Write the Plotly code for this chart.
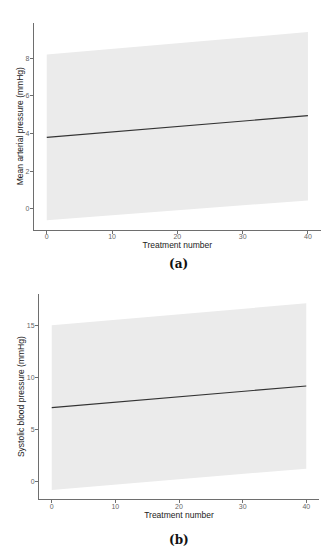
import plotly.graph_objects as go

# Data
treatment = [0, 40]
map_fit = [3.79, 4.95]
map_lower = [-0.62, 0.44]
map_upper = [8.21, 9.40]
sbp_fit = [7.12, 9.20]
sbp_lower = [-0.84, 1.22]
sbp_upper = [15.06, 17.18]

x_ticks = [0, 10, 20, 30, 40]
map_ticks = [0, 2, 4, 6, 8]
sbp_ticks = [0, 5, 10, 15]

# page body has an 8px margin; size the figure to fill the rest of the window
OFF = 8
W, H = 331 - OFF, 550 - OFF

def px(x):
    return (x - OFF) / W

def py(y):
    return 1 - (y - OFF) / H

ribbon_col = "#ebebeb"
line_col = "#333333"
axis_col = "#6e6e6e"
tick_font = dict(family="Liberation Sans, Arial, sans-serif", size=7, color="#666666")
title_font = dict(family="Liberation Sans, Arial, sans-serif", size=8.5, color="#222222")

fig = go.Figure()

def add_panel(fit, lower, upper, xa, ya):
    fig.add_trace(go.Scatter(
        x=treatment + treatment[::-1], y=upper + lower[::-1],
        fill="toself", fillcolor=ribbon_col, line=dict(width=0),
        mode="lines", hoverinfo="skip", showlegend=False, xaxis=xa, yaxis=ya))
    fig.add_trace(go.Scatter(
        x=treatment, y=fit, mode="lines", line=dict(color=line_col, width=1.2),
        showlegend=False, xaxis=xa, yaxis=ya))

add_panel(map_fit, map_lower, map_upper, "x", "y")
add_panel(sbp_fit, sbp_lower, sbp_upper, "x2", "y2")

def xax(domain, anchor):
    return dict(domain=domain, anchor=anchor, range=[-2, 42], tickvals=x_ticks,
                showline=True, linecolor=axis_col, linewidth=1, mirror=False,
                ticks="outside", ticklen=3, tickcolor=axis_col, tickwidth=1,
                ticklabelstandoff=-3,
                showgrid=False, zeroline=False, tickfont=tick_font, automargin=False,
                title=dict(text="Treatment number", font=title_font, standoff=1))

def yax(domain, anchor, rng, tv, title):
    return dict(domain=domain, anchor=anchor, range=rng, tickvals=tv,
                showline=True, linecolor=axis_col, linewidth=1, mirror=False,
                ticks="outside", ticklen=3, tickcolor=axis_col, tickwidth=1,
                ticklabelstandoff=-1,
                showgrid=False, zeroline=False, tickfont=tick_font, automargin=False,
                title=dict(text=title, font=title_font, standoff=0))

map_lo, map_hi = min(map_lower), max(map_upper)
map_pad = 0.05 * (map_hi - map_lo)
sbp_lo, sbp_hi = min(sbp_lower), max(sbp_upper)
sbp_pad = 0.05 * (sbp_hi - sbp_lo)

fig.update_layout(
    width=W, height=H, margin=dict(l=0, r=0, t=0, b=0, autoexpand=False),
    paper_bgcolor="white", plot_bgcolor="white", showlegend=False,
    xaxis=xax([px(33.7), px(321)], "y"),
    yaxis=yax([py(229.7), py(22.7)], "x", [map_lo - map_pad, map_hi + map_pad],
              map_ticks, "Mean arterial pressure (mmHg)"),
    xaxis2=xax([px(39), px(319)], "y2"),
    yaxis2=yax([py(499.3), py(294)], "x2", [sbp_lo - sbp_pad, sbp_hi + sbp_pad],
               sbp_ticks, "Systolic blood pressure (mmHg)"),
    annotations=[
        dict(text="<b>(a)</b>", x=px(178), y=py(264), xref="paper", yref="paper",
             showarrow=False, xanchor="center", yanchor="middle",
             font=dict(family="DejaVu Serif, serif", size=12, color="#111111")),
        dict(text="<b>(b)</b>", x=px(179), y=py(540), xref="paper", yref="paper",
             showarrow=False, xanchor="center", yanchor="middle",
             font=dict(family="DejaVu Serif, serif", size=12, color="#111111")),
    ],
)

fig.write_html("out.html")
